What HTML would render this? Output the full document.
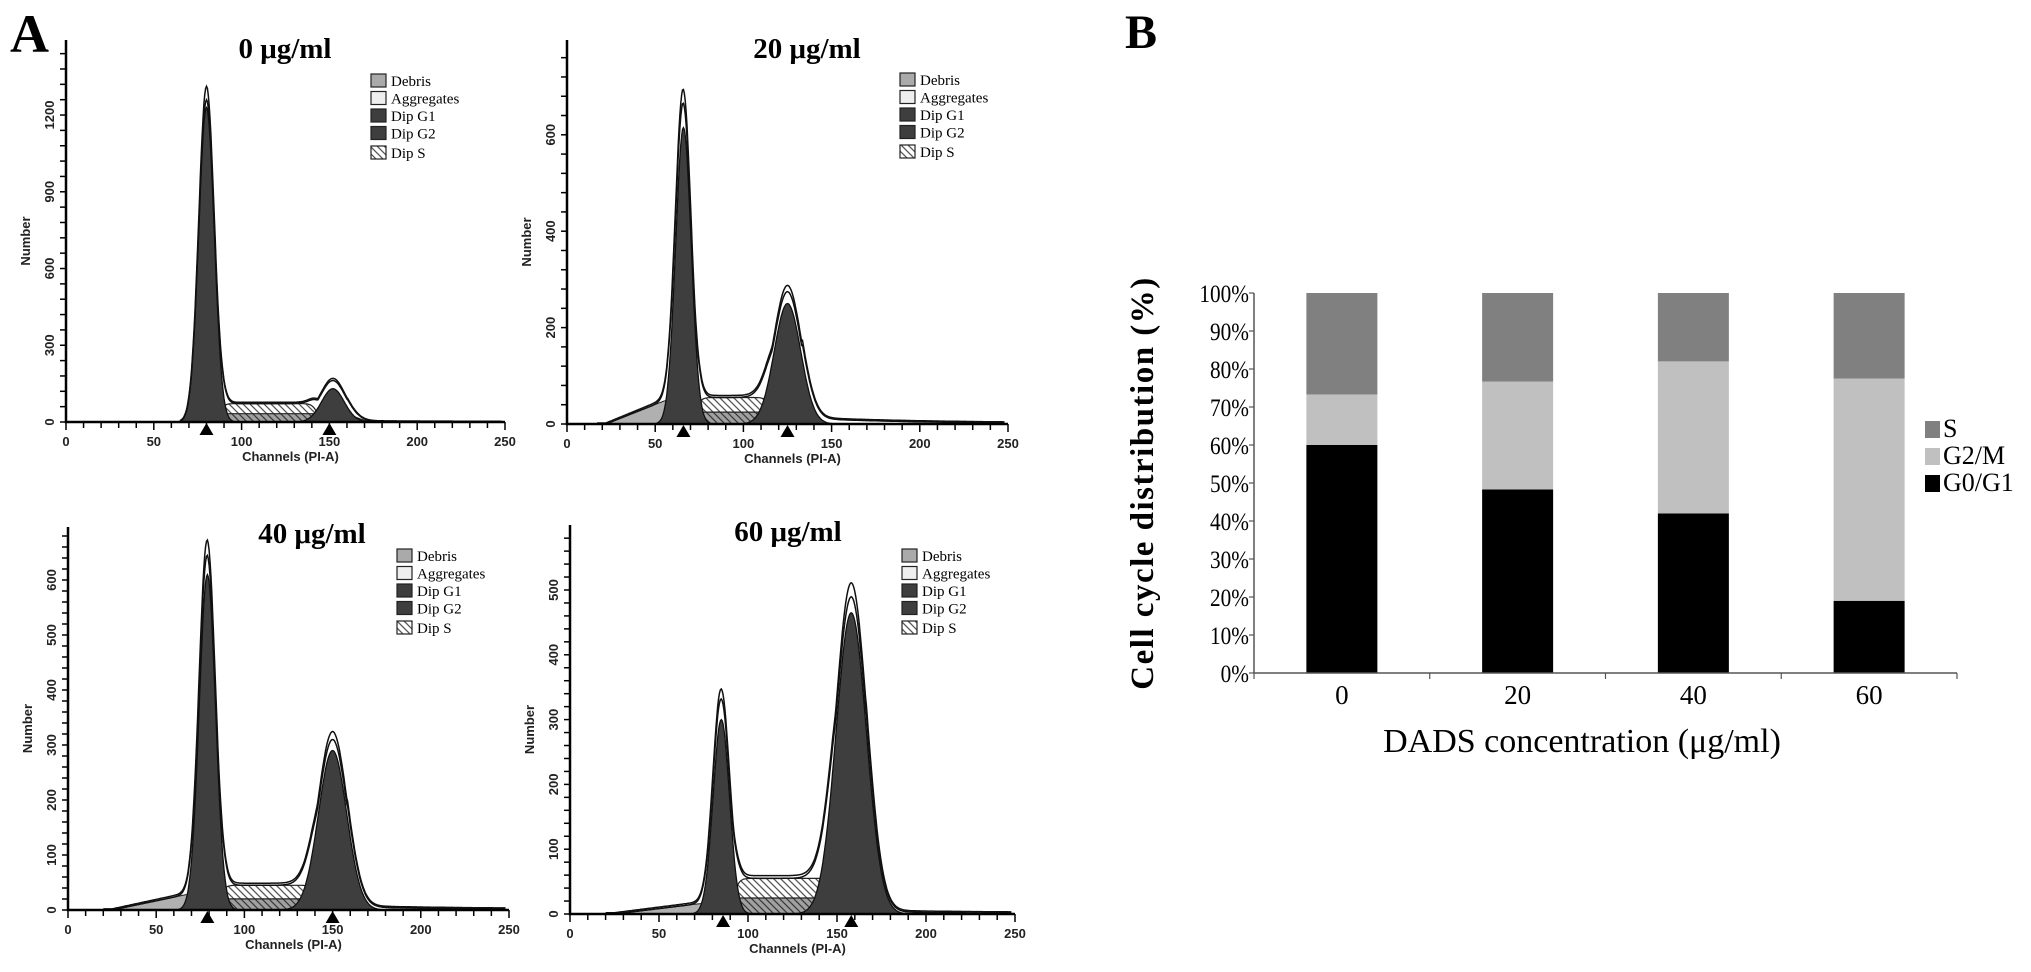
<!DOCTYPE html>
<html><head><meta charset="utf-8"><style>
html,body{margin:0;padding:0;background:#fff;}
svg{display:block;}
.ser{font-family:"Liberation Serif",serif;}
.san{font-family:"Liberation Sans",sans-serif;}
</style></head>
<body>
<svg id="fig" width="2031" height="972" viewBox="0 0 2031 972" xmlns="http://www.w3.org/2000/svg">
<defs>
<pattern id="hatch" width="7" height="7" patternUnits="userSpaceOnUse">
<rect width="7" height="7" fill="#fff"/>
<path d="M-1,-1 L8,8 M-8,-1 L1,8 M6,-1 L15,8" stroke="#555" stroke-width="1.3"/>
</pattern>
<pattern id="hatchdark" width="7" height="7" patternUnits="userSpaceOnUse">
<rect width="7" height="7" fill="#888"/>
<path d="M-1,-1 L8,8 M-8,-1 L1,8 M6,-1 L15,8" stroke="#333" stroke-width="1.3"/>
</pattern>
</defs>
<text x="10" y="52" class="ser" font-size="54" font-weight="bold">A</text>
<text x="1125" y="48" class="ser" font-size="48" font-weight="bold">B</text>
<g id="flow"></g>
<g id="bars"></g>
</svg>
<script>
// ---- Flow cytometry histogram data ----
const panelTitles = ["0 μg/ml","20 μg/ml","40 μg/ml","60 μg/ml"];
const g1Mean = [80, 66, 79, 85];
const g1Height = [1230, 615, 610, 300];
const g1Sd = [4.4, 4.4, 4.6, 4.6];
const g2Mean = [152, 125, 150, 158];
const g2Height = [130, 250, 290, 465];
const g2Sd = [6.5, 7.5, 8, 8.5];
const sLevel = [72, 55, 45, 55];
const debrisStart = [70, 22, 25, 25];
const debrisHeight = [0, 55, 32, 18];
const aggHeight = [3, 12, 6, 4];
const markerLeft = [80, 66, 79, 86];
const markerRight = [150, 125, 150, 158];
const yTickLabels = [[0,300,600,900,1200],[0,200,400,600],[0,100,200,300,400,500,600],[0,100,200,300,400,500]];
const yMinorStep = [60, 40, 20, 20];
const xTickLabels = [0,50,100,150,200,250];
const legendLabels = ["Debris","Aggregates","Dip G1","Dip G2","Dip S"];

// layout (not data)
const layout = [
 {x0:66,x1:505,y0:422,top:40,py:0.2558,tx:285,ty:58,lx:371,ly:74},
 {x0:567,x1:1008,y0:424,top:40,py:0.482,tx:807,ty:58,lx:900,ly:73},
 {x0:68,x1:509,y0:910,top:527,py:0.55,tx:312,ty:543,lx:397,ly:549},
 {x0:570,x1:1015,y0:914,top:525,py:0.648,tx:788,ty:541,lx:902,ly:549}
];
const NS="http://www.w3.org/2000/svg";
function mk(tag, attrs, parent){const e=document.createElementNS(NS,tag);for(const k in attrs)e.setAttribute(k,attrs[k]);parent.appendChild(e);return e;}
const flow=document.getElementById('flow');
function gauss(c,m,s,h){return h*Math.exp(-0.5*((c-m)/s)**2);}
function sig(z){return 1/(1+Math.exp(-z));}

for(let p=0;p<4;p++){
 const L=layout[p];
 const g=mk('g',{},flow);
 
 
 const X=c=>L.x0+(L.x1-L.x0)*c/250;
 const Y=v=>L.y0-v*L.py;
 const G1=c=>gauss(c,g1Mean[p],g1Sd[p],g1Height[p]);
 const G2=c=>gauss(c,g2Mean[p],g2Sd[p],g2Height[p]);
 const S=c=>sLevel[p]*sig((c-g1Mean[p]-7)/1.5)*sig((g2Mean[p]-9-c)/1.5);
 const SB=c=>0.45*sLevel[p]*sig((c-g1Mean[p]+5)/2)*sig((g2Mean[p]+14-c)/3);
 const D=c=>{if(debrisHeight[p]===0)return 0;const a=debrisStart[p],b=g1Mean[p]-6;if(c<a)return 0;const r=Math.min(1,(c-a)/(b-a));return debrisHeight[p]*r*sig((b+6-c)/2);};
 const A=c=>c>g2Mean[p]+8?aggHeight[p]*Math.exp(-(c-g2Mean[p]-8)/70):0;
 const T=c=>G1(c)+G2(c)+Math.max(S(c),SB(c))+D(c)+A(c);
 function area(fn,a,b){let d='M'+X(a)+','+Y(0);for(let c=a;c<=b;c+=0.5)d+=' L'+X(c).toFixed(1)+','+Y(fn(c)).toFixed(1);d+=' L'+X(b)+','+Y(0)+'Z';return d;}
 function line(fn,a,b){let d='';for(let c=a;c<=b;c+=0.5)d+=(d?' L':'M')+X(c).toFixed(1)+','+Y(fn(c)).toFixed(1);return d;}
 const deb=mk('path',{d:area(D,0,g1Mean[p]+10),fill:'#b0b0b0',stroke:'#222','stroke-width':1},g);
 
 
 const sp=mk('path',{d:area(S,g1Mean[p]-5,g2Mean[p]+5),fill:'url(#hatch)',stroke:'#222','stroke-width':1.2},g);
 
 
 const sb=mk('path',{d:area(SB,g1Mean[p]-14,g2Mean[p]+25),fill:'url(#hatchdark)','fill-opacity':0.8,stroke:'#222','stroke-width':1.2},g);
 
 
 const a1=mk('path',{d:area(G1,g1Mean[p]-22,g1Mean[p]+22),fill:'#3e3e3e',stroke:'#111','stroke-width':1.3},g);
 
 
 const a2=mk('path',{d:area(G2,g2Mean[p]-32,g2Mean[p]+32),fill:'#3e3e3e',stroke:'#111','stroke-width':1.3},g);
 
 
 const tl=mk('path',{d:line(c=>T(c)*1.04+2,Math.max(10,debrisStart[p]-5),248),fill:'none',stroke:'#111','stroke-width':1.5},g);
 
 
 const tl2=mk('path',{d:line(T,Math.max(10,debrisStart[p]-5),248),fill:'none',stroke:'#111','stroke-width':1.5},g);
 
 
 const ax=mk('path',{d:`M${L.x0},${L.top} L${L.x0},${L.y0} L${L.x1},${L.y0}`,fill:'none',stroke:'#000','stroke-width':2.5},g);
 
 
 for(let c=0;c<=250;c+=10){
  const big=c%50===0;
  mk('line',{x1:X(c),x2:X(c),y1:L.y0,y2:L.y0+(big?8:6),stroke:'#000','stroke-width':1.5},g);
 }
 xTickLabels.forEach(v=>{const t=mk('text',{x:X(v),y:L.y0+24,'text-anchor':'middle','font-size':13,'font-weight':'bold',class:'san',fill:'#222'},g);t.textContent=v;
  
  });
 for(let v=0;Y(v)>=L.top+3;v+=yMinorStep[p]){
  mk('line',{x1:L.x0-6,x2:L.x0,y1:Y(v),y2:Y(v),stroke:'#000','stroke-width':1.5},g);
 }
 yTickLabels[p].forEach(v=>{const t=mk('text',{transform:`translate(${L.x0-12},${Y(v)}) rotate(-90)`,'text-anchor':'middle','font-size':13,'font-weight':'bold',class:'san',fill:'#222'},g);t.textContent=v;
  
  });
 const xt=mk('text',{x:(L.x0+L.x1)/2+5,y:L.y0+39,'text-anchor':'middle','font-size':13,'font-weight':'bold',class:'san',fill:'#222'},g);xt.textContent='Channels (PI-A)';
 
 
 const yt=mk('text',{transform:`translate(${L.x0-36},${(L.top+L.y0)/2+10}) rotate(-90)`,'text-anchor':'middle','font-size':13,'font-weight':'bold',class:'san',fill:'#222'},g);yt.textContent='Number';
 
 
 [markerLeft[p],markerRight[p]].forEach(m=>{const tr=mk('path',{d:`M${X(m)-7},${L.y0+13} L${X(m)+7},${L.y0+13} L${X(m)},${L.y0+1}Z`,fill:'#000'},g);
  
  });
 const ti=mk('text',{x:L.tx,y:L.ty,'text-anchor':'middle','font-size':29,'font-weight':'bold',class:'ser'},g);ti.textContent=panelTitles[p];
 
 
 const fills=['#aaa','#eee','#3e3e3e','#3e3e3e','url(#hatch)'];
 const lg=mk('g',{},g);
 
 
 legendLabels.forEach((lab,i)=>{
  const yy=L.ly+i*17.5+(i===4?2:0);
  mk('rect',{x:L.lx,y:yy,width:15,height:13,fill:fills[i],stroke:'#222','stroke-width':1.2},lg);
  const t=mk('text',{x:L.lx+20,y:yy+12,'font-size':15,class:'ser'},lg);t.textContent=lab;
  
  
 });
}

// ---- Stacked bar chart (panel B) ----
const categories = ["0","20","40","60"];
const g0g1 = [60, 48.3, 42, 19];
const g2m = [13.3, 28.4, 40, 58.5];
const sPhase = [26.7, 23.3, 18, 22.5];
const pctTicks = ["0%","10%","20%","30%","40%","50%","60%","70%","80%","90%","100%"];
const seriesNames = ["S","G2/M","G0/G1"];

const bars=document.getElementById('bars');
const bx0=1254, bx1=1957, by0=673, by100=293;
const yS=v=>by0-(by0-by100)*v/100;
const band=(bx1-bx0)/categories.length;
const xC=i=>bx0+band*(i+0.5);
const bw=71;
categories.forEach((c,i)=>{
 const segs=[[0,g0g1[i],'#000','bar-g0g1-'+c],[g0g1[i],g0g1[i]+g2m[i],'#c0c0c0','bar-g2m-'+c],[g0g1[i]+g2m[i],g0g1[i]+g2m[i]+sPhase[i],'#808080','bar-s-'+c]];
 segs.forEach(s=>{const r=mk('rect',{x:xC(i)-bw/2,y:yS(s[1]),width:bw,height:yS(s[0])-yS(s[1]),fill:s[2]},bars);
  
  });
 const t=mk('text',{x:xC(i),y:by0+31,'text-anchor':'middle','font-size':27,class:'ser'},bars);t.textContent=c;
 
 
});
const bax=mk('path',{d:`M${bx0},${by100} L${bx0},${by0} L${bx1},${by0}`,fill:'none',stroke:'#555','stroke-width':1.5},bars);


for(let i=0;i<=categories.length;i++){mk('line',{x1:bx0+band*i,x2:bx0+band*i,y1:by0,y2:by0+6,stroke:'#555','stroke-width':1.2},bars);}
pctTicks.forEach((lab,i)=>{
 mk('line',{x1:bx0-5,x2:bx0,y1:yS(i*10),y2:yS(i*10),stroke:'#555','stroke-width':1.2},bars);
 const t=mk('text',{x:bx0-5,y:yS(i*10)+9,'text-anchor':'end','font-size':25,class:'ser',transform:`translate(${bx0-5},0) scale(0.85,1) translate(${-(bx0-5)},0)`},bars);t.textContent=lab;
 
 
});
const yt=mk('text',{transform:`translate(1153,${(by0+by100)/2}) rotate(-90)`,'text-anchor':'middle','font-size':33,'font-weight':'bold',class:'ser','letter-spacing':'1.5'},bars);yt.textContent='Cell cycle distribution (%)';


const xt=mk('text',{x:1582,y:752,'text-anchor':'middle','font-size':34,class:'ser'},bars);xt.textContent='DADS concentration (μg/ml)';


const lfill=['#808080','#c0c0c0','#000'];
seriesNames.forEach((n,i)=>{
 const yy=421+i*27;
 const r=mk('rect',{x:1925,y:yy,width:15,height:17,fill:lfill[i]},bars);
 
 
 const t=mk('text',{x:1943,y:yy+16,'font-size':26,class:'ser'},bars);t.textContent=n;
 
 
});
</script>
</body></html>
